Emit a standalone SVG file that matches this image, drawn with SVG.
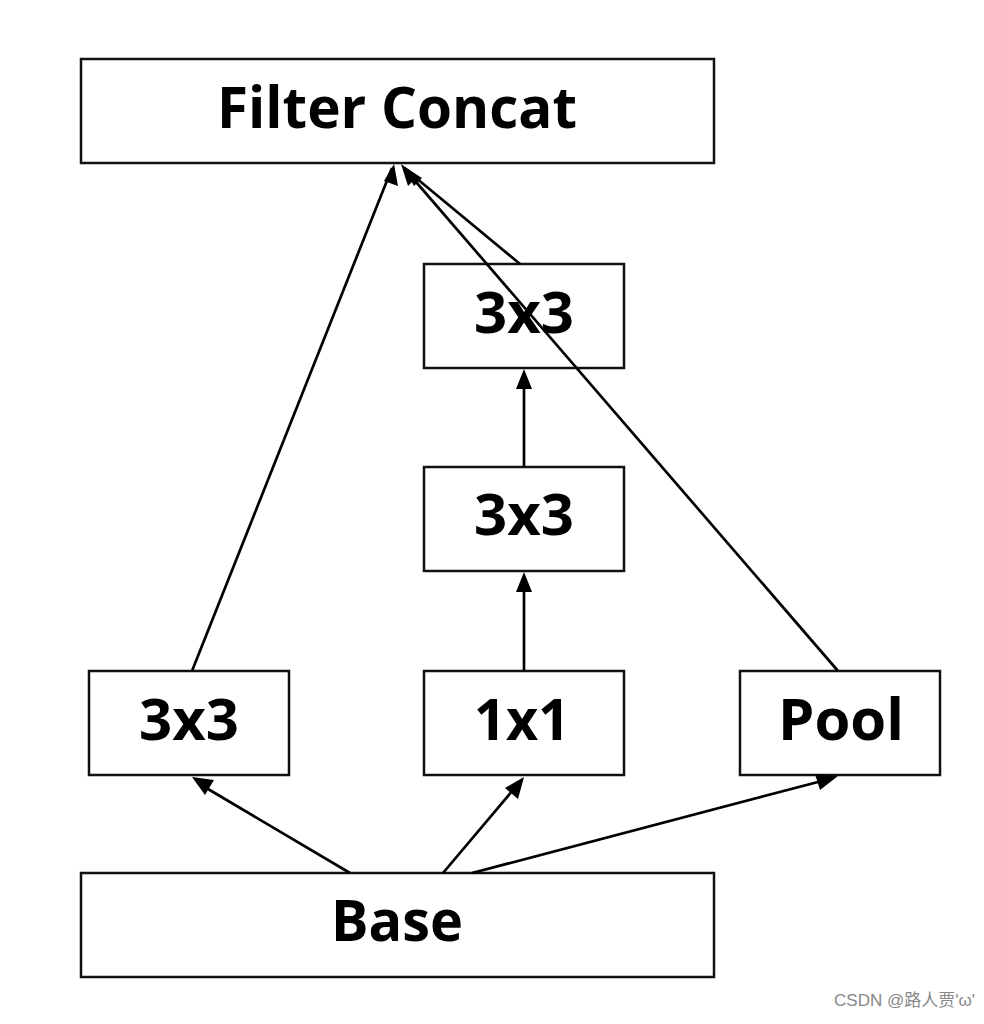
<svg xmlns="http://www.w3.org/2000/svg" width="984" height="1024" viewBox="0 0 984 1024">
<defs>
<style>
.box{fill:#fff;stroke:#111;stroke-width:2.5}
.lbl{font-family:"Open Sans","Noto Sans",sans-serif;font-weight:bold;fill:#000;text-anchor:middle}
.c{stroke:#000;stroke-width:2.7;fill:none}
.h{fill:#000}
</style>
</defs>
<rect width="984" height="1024" fill="#fff"/>
<g id="filter-concat">
<rect class="box" x="81" y="59" width="633" height="104"/>
<text class="lbl" x="397" y="128" font-size="58" textLength="360" lengthAdjust="spacingAndGlyphs">Filter Concat</text>
</g>
<g id="conv3x3-top">
<rect class="box" x="424" y="264" width="200" height="104"/>
<text class="lbl" x="524" y="333" font-size="58" textLength="100" lengthAdjust="spacingAndGlyphs">3x3</text>
</g>
<g id="conv3x3-mid">
<rect class="box" x="424" y="467" width="200" height="104"/>
<text class="lbl" x="524" y="535" font-size="58" textLength="100" lengthAdjust="spacingAndGlyphs">3x3</text>
</g>
<g id="conv3x3-left">
<rect class="box" x="89" y="671" width="200" height="104"/>
<text class="lbl" x="189" y="740" font-size="58" textLength="100" lengthAdjust="spacingAndGlyphs">3x3</text>
</g>
<g id="conv1x1">
<rect class="box" x="424" y="671" width="200" height="104"/>
<text class="lbl" x="522" y="740" font-size="58" textLength="96" lengthAdjust="spacingAndGlyphs">1x1</text>
</g>
<g id="pool">
<rect class="box" x="740" y="671" width="200" height="104"/>
<text class="lbl" x="841" y="740" font-size="58" textLength="126" lengthAdjust="spacingAndGlyphs">Pool</text>
</g>
<g id="base">
<rect class="box" x="81" y="873" width="633" height="104"/>
<text class="lbl" x="397" y="941" font-size="58" textLength="132" lengthAdjust="spacingAndGlyphs">Base</text>
</g>
<g id="connectors">
<path class="c" d="M192,671 L392,168"/>
<path class="c" d="M520,264 L404,168"/>
<path class="c" d="M838,671 L404,168"/>
<polygon class="h" points="394,164 398,186 384,181"/>
<polygon class="h" points="401,164 418,176 408,186"/>
<polygon class="h" points="403,166 422,178 414,186"/>
<line class="c" x1="524" y1="671" x2="524" y2="590"/>
<polygon class="h" points="524,572 516,592 532,592"/>
<line class="c" x1="524" y1="467" x2="524" y2="387"/>
<polygon class="h" points="524,369 516,389 532,389"/>
<line class="c" x1="350" y1="873" x2="208" y2="789"/>
<polygon class="h" points="192,777 214,780 205,795"/>
<line class="c" x1="443" y1="873" x2="513" y2="790"/>
<polygon class="h" points="524,777 518,799 505,788"/>
<line class="c" x1="472" y1="873" x2="818" y2="782"/>
<polygon class="h" points="838,776 820,790 815,774"/>
</g>
<text x="975" y="1006" font-family="'Liberation Sans','Noto Sans CJK SC',sans-serif" font-size="17" fill="#888" text-anchor="end">CSDN @路人贾'ω'</text>
</svg>
